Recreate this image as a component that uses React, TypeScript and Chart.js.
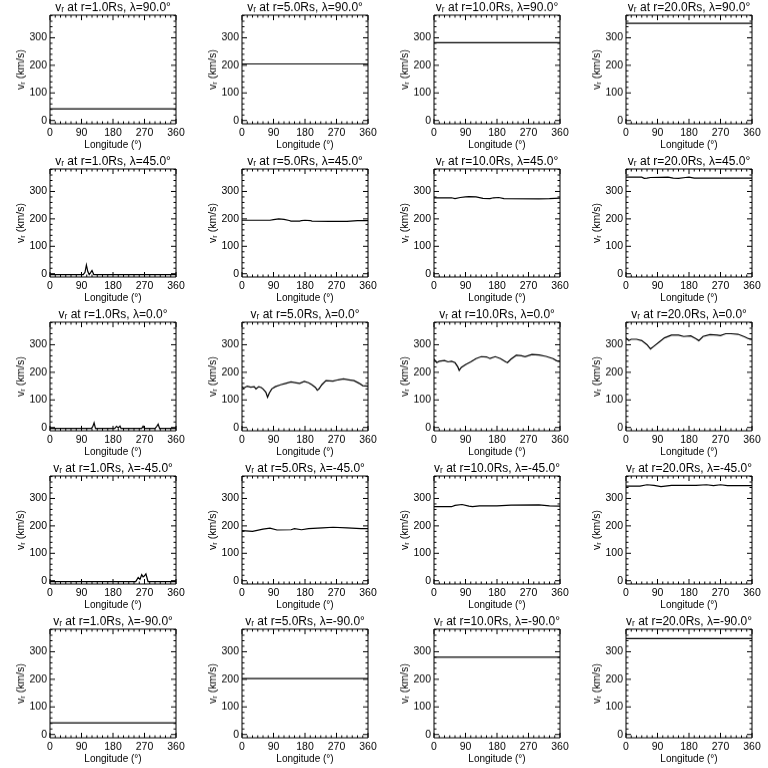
import React, { useEffect, useRef } from 'react';
import { Chart, registerables } from 'chart.js';
Chart.register(...registerables);

// ---- labels ----
const radii = ['1.0', '5.0', '10.0', '20.0'];
const lats = ['90.0', '45.0', '0.0', '-45.0', '-90.0'];
const xTicks = [0, 90, 180, 270, 360];
const yTicks = [0, 100, 200, 300];
const xMinorStep = 15;
const yMinorStep = 20;
const yMin = -12;
const yMax = 382;

// ---- lat 90 ----
const lonFlat = [0, 360];
const vN90r1 = [42, 42];
const vN90r5 = [205, 205];
const vN90r10 = [282, 282];
const vN90r20 = [352, 352];

// ---- lat 45 ----
const lonN45r1 = [0, 95, 100, 104, 108, 112, 116, 120, 125, 360];
const vN45r1 = [-3, -3, 5, 32, 8, -3, 4, 12, -3, -3];
const lonN45r5 = [0, 80, 90, 105, 120, 135, 140, 165, 170, 180, 195, 200, 250, 300, 330, 360];
const vN45r5 = [195, 195, 197, 200, 198, 194, 192, 192, 194, 195, 194, 192, 191, 191, 194, 194];
const lonN45r10 = [0, 50, 60, 75, 90, 100, 120, 140, 160, 170, 185, 200, 300, 330, 360];
const vN45r10 = [277, 277, 274, 278, 280, 281, 280, 275, 274, 277, 278, 274, 273, 274, 276];
const lonN45r20 = [0, 45, 52, 60, 70, 120, 135, 150, 170, 180, 195, 360];
const vN45r20 = [352, 352, 348, 349, 351, 352, 349, 348, 351, 352, 349, 349];

// ---- lat 0 ----
const lonEqr1 = [0, 118, 122, 126, 130, 185, 190, 195, 200, 203, 206, 262, 266, 270, 300, 305, 309, 313, 360];
const vEqr1 = [-3, -3, 3, 17, -3, -3, 4, -1, 5, -3, -3, -3, 5, -3, -3, 4, 12, -3, -3];
const lonEqr5 = [0, 5, 15, 25, 35, 40, 48, 55, 60, 68, 73, 78, 85, 95, 110, 125, 140, 155, 165, 178, 190, 200, 210, 215, 220, 228, 240, 260, 275, 290, 305, 320, 335, 345, 360];
const vEqr5 = [148, 143, 150, 146, 148, 140, 148, 145, 140, 128, 110, 125, 140, 148, 155, 160, 165, 162, 160, 167, 162, 155, 145, 135, 140, 155, 170, 168, 173, 176, 173, 170, 160, 152, 150];
const lonEqr10 = [0, 8, 15, 30, 40, 50, 60, 68, 72, 78, 90, 105, 120, 135, 150, 160, 175, 190, 205, 210, 220, 235, 250, 260, 280, 300, 320, 340, 350, 360];
const vEqr10 = [248, 235, 240, 243, 238, 240, 235, 220, 207, 218, 228, 238, 250, 257, 256, 250, 257, 250, 238, 235, 248, 262, 260, 257, 265, 263, 258, 250, 242, 240];
const lonEqr20 = [0, 8, 15, 30, 45, 60, 70, 80, 95, 110, 130, 150, 165, 185, 200, 208, 220, 240, 260, 270, 285, 300, 320, 340, 350, 360];
const vEqr20 = [325, 315, 320, 320, 315, 300, 285, 295, 310, 325, 335, 335, 330, 332, 322, 315, 330, 337, 335, 333, 340, 340, 338, 328, 322, 320];

// ---- lat -45 ----
const lonS45r1 = [0, 245, 252, 257, 262, 266, 270, 274, 280, 360];
const vS45r1 = [-3, -3, 12, 5, 22, 14, 18, 25, -3, -3];
const lonS45r5 = [0, 30, 60, 80, 100, 140, 150, 170, 190, 230, 260, 300, 340, 360];
const vS45r5 = [183, 180, 188, 192, 185, 186, 190, 186, 190, 193, 195, 193, 190, 190];
const lonS45r10 = [0, 50, 60, 80, 100, 110, 130, 180, 220, 300, 330, 360];
const vS45r10 = [270, 270, 275, 278, 272, 270, 273, 273, 276, 277, 273, 272];
const lonS45r20 = [0, 40, 60, 80, 100, 130, 200, 230, 250, 270, 290, 360];
const vS45r20 = [345, 345, 350, 348, 343, 348, 348, 350, 347, 350, 347, 347];

// ---- lat -90 ----
const vS90r1 = [42, 42];
const vS90r5 = [203, 203];
const vS90r10 = [280, 280];
const vS90r20 = [348, 348];

const panels: { lon: number[]; v: number[] }[][] = [
  [
    { lon: lonFlat, v: vN90r1 },
    { lon: lonFlat, v: vN90r5 },
    { lon: lonFlat, v: vN90r10 },
    { lon: lonFlat, v: vN90r20 },
  ],
  [
    { lon: lonN45r1, v: vN45r1 },
    { lon: lonN45r5, v: vN45r5 },
    { lon: lonN45r10, v: vN45r10 },
    { lon: lonN45r20, v: vN45r20 },
  ],
  [
    { lon: lonEqr1, v: vEqr1 },
    { lon: lonEqr5, v: vEqr5 },
    { lon: lonEqr10, v: vEqr10 },
    { lon: lonEqr20, v: vEqr20 },
  ],
  [
    { lon: lonS45r1, v: vS45r1 },
    { lon: lonS45r5, v: vS45r5 },
    { lon: lonS45r10, v: vS45r10 },
    { lon: lonS45r20, v: vS45r20 },
  ],
  [
    { lon: lonFlat, v: vS90r1 },
    { lon: lonFlat, v: vS90r5 },
    { lon: lonFlat, v: vS90r10 },
    { lon: lonFlat, v: vS90r20 },
  ],
];

const CELL_W = 192;
const CELL_H = 153.6;
const FONT = 'Liberation Sans';

const boxPlugin = {
  id: 'idlBox',
  afterDatasetsDraw(chart: any) {
    const { ctx, chartArea } = chart;
    const { left, right, top, bottom } = chartArea;
    const xs = chart.scales.x;
    const ys = chart.scales.y;
    ctx.save();
    ctx.strokeStyle = '#000';
    ctx.lineWidth = 1;
    ctx.beginPath();
    ctx.rect(left, top, right - left, bottom - top);
    const major = 5;
    const minor = 2.5;
    for (let v = 0; v <= 360; v += xMinorStep) {
      const px = xs.getPixelForValue(v);
      const len = xTicks.includes(v) ? major : minor;
      ctx.moveTo(px, bottom);
      ctx.lineTo(px, bottom - len);
      ctx.moveTo(px, top);
      ctx.lineTo(px, top + len);
    }
    for (let v = -yMinorStep * Math.floor(-yMin / yMinorStep); v <= yMax; v += yMinorStep) {
      const py = ys.getPixelForValue(v);
      const len = yTicks.includes(v) ? major : minor;
      ctx.moveTo(left, py);
      ctx.lineTo(left + len, py);
      ctx.moveTo(right, py);
      ctx.lineTo(right - len, py);
    }
    ctx.stroke();
    ctx.restore();
  },
};

function Panel({ row, col }: { row: number; col: number }) {
  const ref = useRef<HTMLCanvasElement>(null);
  useEffect(() => {
    const p = panels[row][col];
    const data = p.lon.map((x, i) => ({ x, y: p.v[i] }));
    const chart = new Chart(ref.current as HTMLCanvasElement, {
      type: 'line',
      data: {
        datasets: [
          {
            data,
            borderColor: '#000',
            borderWidth: 1.2,
            pointRadius: 0,
            tension: 0,
            fill: false,
          },
        ],
      },
      options: {
        animation: false,
        responsive: true,
        maintainAspectRatio: false,
        layout: { padding: { top: 0, right: 16, bottom: 0, left: 0 } },
        plugins: {
          legend: { display: false },
          tooltip: { enabled: false },
          title: {
            display: true,
            text: `vᵣ at r=${radii[col]}Rs, λ=${lats[row]}°`,
            fullSize: false,
            color: '#000',
            font: { family: FONT, size: 12, weight: 'normal' },
            padding: { top: 0.6, bottom: 0 },
          },
        },
        scales: {
          x: {
            type: 'linear',
            min: 0,
            max: 360,
            grid: { display: false, drawTicks: false },
            border: { display: false },
            ticks: {
              color: '#000',
              font: { family: FONT, size: 10.5 },
              padding: 3,
              maxRotation: 0,
              autoSkip: false,
            },
            afterBuildTicks: (s: any) => {
              s.ticks = xTicks.map((value) => ({ value }));
            },
            afterFit: (s: any) => {
              s.height = CELL_H - 123;
            },
            title: {
              display: true,
              text: 'Longitude (°)',
              color: '#000',
              font: { family: FONT, size: 10 },
              padding: { top: 0, bottom: 3.5 },
            },
          },
          y: {
            type: 'linear',
            min: yMin,
            max: yMax,
            grid: { display: false, drawTicks: false },
            border: { display: false },
            ticks: {
              color: '#000',
              font: { family: FONT, size: 10.5 },
              padding: 3,
              autoSkip: false,
            },
            afterBuildTicks: (s: any) => {
              s.ticks = yTicks.map((value) => ({ value }));
            },
            afterFit: (s: any) => {
              s.width = 50;
            },
            title: {
              display: true,
              text: 'vᵣ (km/s)',
              color: '#000',
              font: { family: FONT, size: 10.5 },
              padding: { top: 14.5, bottom: 0 },
            },
          },
        },
      } as any,
      plugins: [boxPlugin],
    });
    return () => chart.destroy();
  }, [row, col]);
  return (
    <div style={{ position: 'relative', width: CELL_W, height: CELL_H }}>
      <canvas ref={ref} />
    </div>
  );
}

export default function App() {
  const cells = [];
  for (let r = 0; r < 5; r++) {
    for (let c = 0; c < 4; c++) {
      cells.push(<Panel key={`${r}-${c}`} row={r} col={c} />);
    }
  }
  return (
    <div
      style={{
        position: 'absolute',
        left: 0,
        top: 0,
        width: 768,
        height: 768,
        background: '#fff',
        display: 'grid',
        gridTemplateColumns: `repeat(4, ${CELL_W}px)`,
        gridTemplateRows: `repeat(5, ${CELL_H}px)`,
      }}
    >
      {cells}
    </div>
  );
}
